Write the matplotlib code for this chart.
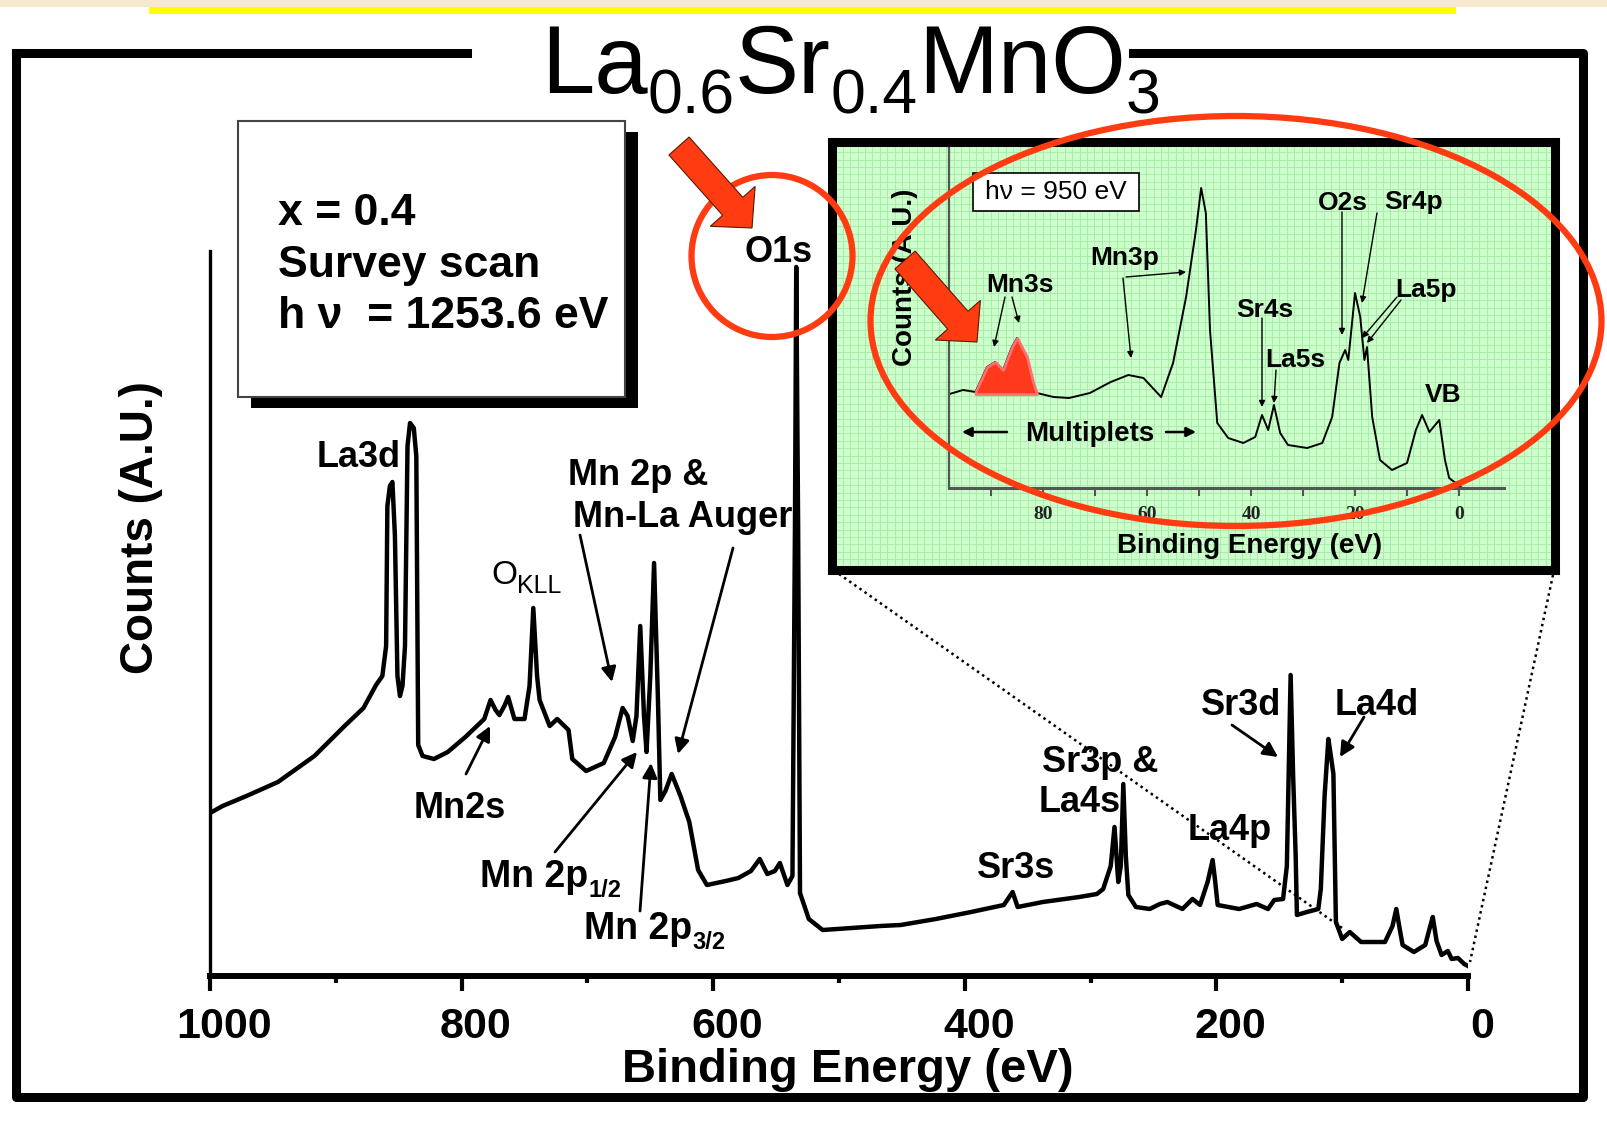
import matplotlib
matplotlib.use("Agg")
import matplotlib.pyplot as plt
import matplotlib.patches as mpatches
import matplotlib.transforms as mtransforms
import numpy as np

W, H = 1608, 1124
plt.rcParams["font.family"] = ["Liberation Sans", "DejaVu Sans"]

RED = "#ff3b12"

# survey scan, hv = 1253.6 eV (binding energy in eV, counts in arbitrary units)
survey_be = [1000, 990, 971, 946, 917, 893, 878, 868, 863, 860, 859, 857, 855, 853,
             851, 849, 847, 845, 843, 841, 838, 836, 834.5, 831, 822, 811, 797, 782,
             777, 773, 770, 766, 763, 758, 750, 746, 743, 740, 738, 730, 724, 715,
             712, 701, 687, 678, 672, 668, 664, 661, 658, 655, 653, 650, 647, 644,
             642, 638, 633, 626, 619, 612, 605, 590, 580, 570, 563, 557, 551, 547,
             541, 537, 535, 534, 532.5, 531, 524, 513, 490, 467, 451, 423, 395, 369,
             362, 358, 338, 309, 295, 290, 284, 281, 278, 276, 274, 272, 270, 264,
             253, 245, 239, 227, 219, 213, 207, 203, 201, 199, 182, 168, 159, 154,
             147, 144, 141, 139, 137, 136, 128, 119, 117, 114, 111, 109, 107, 105,
             100, 94, 85, 66, 60, 57, 54, 52, 43, 34, 30, 28, 25, 21, 16, 13, 8, 3, 0]
survey_counts = [163, 170, 180, 194, 220, 250, 268, 291, 300, 330, 470, 490, 494, 440,
                 300, 280, 290, 330, 530, 553, 548, 520, 231, 220, 217, 224, 239, 257,
                 276, 266, 261, 270, 279, 257, 257, 290, 368, 300, 276, 250, 257, 246,
                 217, 205, 213, 239, 268, 260, 235, 260, 350, 260, 224, 300, 413, 280,
                 176, 185, 202, 180, 154, 106, 91, 95, 98, 105, 117, 102, 105, 113,
                 91, 100, 450, 709, 450, 83, 57, 46, 48, 50, 51, 57, 64, 71,
                 84, 69, 74, 79, 82, 87, 110, 149, 94, 110, 192, 120, 81, 69,
                 67, 72, 74, 67, 77, 71, 94, 116, 95, 71, 67, 72, 67, 76,
                 77, 110, 301, 200, 121, 61, 64, 67, 87, 180, 237, 220, 202, 54,
                 37, 44, 34, 34, 50, 67, 45, 31, 24, 31, 50, 59, 35, 21, 25, 17, 18, 12, 10]

# shallow core levels and valence band, hv = 950 eV
valence_be = [98, 95.4, 93, 90.8, 89.2, 87.7, 86, 85, 83.1, 81.9, 81.2, 78, 75, 71, 67,
              63.6, 60.7, 57.3, 55, 52.5, 50.6, 49.6, 48.7, 47.9, 46.5, 44.4, 41.5,
              39.2, 37.9, 36.7, 35.6, 34.4, 32.9, 29.2, 26.3, 24.4, 23, 21.9, 21.3, 20,
              19, 18.2, 17.7, 16.7, 15.2, 12.9, 10, 8.3, 7.1, 5.7, 3.8, 2.7, 1.9, -0.6, -3]
valence_counts = [94, 98, 96, 121, 126, 118, 141, 150, 131, 105, 95, 91, 90, 95, 106,
                  113, 110, 91, 125, 191, 258, 300, 275, 158, 65, 50, 45,
                  51, 73, 58, 83, 55, 43, 40, 45, 71, 125, 138, 128, 195,
                  171, 128, 141, 71, 28, 18, 25, 58, 73, 56, 68, 28, 10, 0, 0]
mn3s_range = (93, 81.2)
mn3s_base = 94

survey_ticks = [1000, 800, 600, 400, 200, 0]
valence_ticks = [80, 60, 40, 20, 0]


def px_axes(fig, left, top, right, bottom, **kw):
    return fig.add_axes([left / W, 1 - bottom / H, (right - left) / W, (bottom - top) / H], **kw)


def chem_text(ax, x, y, runs, size, sub_size, drop, **kw):
    """Write a formula run by run; runs flagged True are set as subscripts."""
    renderer = ax.figure.canvas.get_renderer()
    for text, is_sub in runs:
        t = ax.text(x, y + (drop if is_sub else 0), text,
                    fontsize=sub_size if is_sub else size,
                    ha="left", va="baseline", **kw)
        x += t.get_window_extent(renderer).width


def pointer(ax, start, end, lw=2.0, scale=22, **kw):
    ax.annotate("", xy=end, xytext=start,
                arrowprops=dict(arrowstyle="-|>", lw=lw, color="black",
                                mutation_scale=scale, shrinkA=0, shrinkB=0), **kw)


fig = plt.figure(figsize=(W / 100, H / 100), dpi=100, facecolor="white")

ov = fig.add_axes([0, 0, 1, 1], zorder=10)
ov.set_xlim(0, W)
ov.set_ylim(H, 0)
ov.axis("off")
ov.patch.set_alpha(0)

# ---- survey spectrum ----
ax = px_axes(fig, 210, 251, 1468, 976, zorder=1)
ax.patch.set_alpha(0)
ax.plot(survey_be, survey_counts, color="black", lw=3.2, solid_joinstyle="round")
ax.set_xlim(1000, 0)
ax.set_ylim(0, 725)
for side in ("top", "right"):
    ax.spines[side].set_visible(False)
ax.spines["bottom"].set_linewidth(4.3)
ax.spines["left"].set_linewidth(2.4)
ax.set_yticks([])
ax.set_xticks(survey_ticks)
ax.set_xticks([900, 700, 500, 300, 100], minor=True)
ax.tick_params(axis="x", which="major", direction="out", length=11, width=3,
               labelsize=31, pad=11)
ax.tick_params(axis="x", which="minor", direction="out", length=5, width=3)
shift = mtransforms.ScaledTranslation(0.14, 0, fig.dpi_scale_trans)
for lab in ax.get_xticklabels():
    lab.set_fontweight("bold")
    lab.set_transform(lab.get_transform() + shift)
ax.set_xlabel("Binding Energy (eV)", fontsize=34, fontweight="bold", va="baseline")
ax.xaxis.set_label_coords(848, 1082, transform=ov.transData)
ax.set_ylabel("Counts (A.U.)", fontsize=33, fontweight="bold", va="center")
ax.yaxis.set_label_coords(141, 528, transform=ov.transData)

# ---- inset panel ----
panel = px_axes(fig, 832.5, 141.5, 1555.5, 569.5, zorder=2)
panel.set_facecolor("#ccffcc")
panel.set_xlim(0, 723)
panel.set_ylim(0, 428)
for v in np.arange(3, 723, 7.4):
    panel.axvline(v, color="#a9eca9", lw=0.7)
for h in np.arange(3, 428, 7.4):
    panel.axhline(h, color="#a9eca9", lw=0.7)
panel.set_xticks([])
panel.set_yticks([])
for sp in panel.spines.values():
    sp.set_linewidth(6.5)
    sp.set_color("black")

ins = px_axes(fig, 949, 148, 1504, 488, zorder=3)
ins.patch.set_alpha(0)
ins.plot(valence_be, valence_counts, color="black", lw=1.4)
be = np.array(valence_be)
cts = np.array(valence_counts)
sel = (be <= mn3s_range[0]) & (be >= mn3s_range[1])
ins.fill_between(be[sel], mn3s_base, cts[sel], color="#ff3a1c",
                 edgecolor="#ff7070", lw=2, zorder=3)
ins.set_xlim(98.1, -8.65)
ins.set_ylim(0, 340)
for side in ("top", "right"):
    ins.spines[side].set_visible(False)
for side in ("left", "bottom"):
    ins.spines[side].set_color("#555555")
    ins.spines[side].set_linewidth(1.6)
ins.spines["bottom"].set_linewidth(2.2)
ins.set_yticks([])
ins.set_xticks(valence_ticks)
ins.set_xticks([90, 70, 50, 30, 10], minor=True)
ins.tick_params(axis="x", which="both", direction="out", length=6, width=1.5,
                color="#555555", labelsize=14, labelcolor="#222222", pad=7)
for lab in ins.get_xticklabels():
    lab.set_fontfamily("Liberation Serif")
    lab.set_fontweight("bold")
ins.set_xlabel("Binding Energy (eV)", fontsize=20, fontweight="bold", va="baseline")
ins.xaxis.set_label_coords(1250, 553, transform=ov.transData)
ins.set_ylabel("Counts (A.U.)", fontsize=20, fontweight="bold", va="center")
ins.yaxis.set_label_coords(905, 277, transform=ov.transData)

# ---- page decoration ----
ov.add_patch(mpatches.Rectangle((0, 0), W, 7, color="#f6e9d0", lw=0))
ov.add_patch(mpatches.Rectangle((149, 7), 1307, 7, color="#ffff00", lw=0))
frame = dict(color="black", lw=6.5, solid_capstyle="projecting")
ov.plot([16, 16, 1583, 1583, 1133], [53, 1097, 1097, 53, 53], **frame)
ov.plot([16, 467], [53, 53], **frame)

chem_text(ov, 541, 93,
          [("La", False), ("0.6", True), ("Sr", False), ("0.4", True),
           ("MnO", False), ("3", True)],
          size=69, sub_size=45, drop=20)

# sample info box with drop shadow
ov.add_patch(mpatches.Rectangle((251, 132), 387, 276, color="black", lw=0, zorder=2))
ov.add_patch(mpatches.Rectangle((238, 121), 387, 276, facecolor="white",
                                edgecolor="#444444", lw=1.5, zorder=3))
for txt, base in [("x = 0.4", 225), ("Survey scan", 277), ("h \u03bd  = 1253.6 eV", 328)]:
    ov.text(278, base, txt, fontsize=32, fontweight="bold", va="baseline", zorder=4)

# ---- survey peak labels ----
lab = dict(fontsize=26, fontweight="bold", va="baseline")
ov.text(359, 467, "La3d", ha="center", **lab)
ov.text(779, 262, "O1s", ha="center", **lab)
ov.text(568, 485, "Mn 2p &", ha="left", **lab)
ov.text(573, 527, "Mn-La Auger", ha="left", **lab)
ov.text(460, 818, "Mn2s", ha="center", **lab)
ov.text(1016, 878, "Sr3s", ha="center", **lab)
ov.text(1042, 772, "Sr3p &", ha="left", **lab)
ov.text(1039, 812, "La4s", ha="left", **lab)
ov.text(1230, 840, "La4p", ha="center", **lab)
ov.text(1241, 715, "Sr3d", ha="center", **lab)
ov.text(1377, 715, "La4d", ha="center", **lab)
chem_text(ov, 491, 584, [("O", False), ("KLL", True)], size=24, sub_size=18, drop=9)
chem_text(ov, 480, 887, [("Mn 2p", False), ("1/2", True)], size=27, sub_size=17,
          drop=10, fontweight="bold")
chem_text(ov, 584, 939, [("Mn 2p", False), ("3/2", True)], size=27, sub_size=17,
          drop=10, fontweight="bold")

for start, end in [((580, 535), (612, 682)), ((733, 548), (678, 754)),
                   ((466, 774), (490, 726)), ((555, 852), (637, 752)),
                   ((640, 911), (651, 763)), ((1232, 725), (1278, 757)),
                   ((1364, 717), (1340, 757))]:
    pointer(ov, start, end)

# ---- inset labels ----
ilab = dict(fontsize=19, fontweight="bold", va="baseline", ha="center")
for txt, x, y in [("Mn3s", 1020, 292), ("Mn3p", 1125, 265), ("Sr4s", 1265, 317),
                  ("La5s", 1295, 367), ("O2s", 1343, 210), ("Sr4p", 1414, 209),
                  ("La5p", 1426, 297), ("VB", 1443, 402)]:
    ov.text(x, y, txt, **ilab)
ov.text(1090, 441, "Multiplets", fontsize=20, fontweight="bold", ha="center", va="baseline")
pointer(ov, (1007, 432), (962, 432), lw=1.8, scale=14)
pointer(ov, (1166, 432), (1196, 432), lw=1.8, scale=14)
for start, end in [((1005, 297), (994, 347)), ((1012, 297), (1019, 323)),
                   ((1123, 278), (1131, 358)), ((1126, 277), (1186, 272)),
                   ((1262, 318), (1262, 407)), ((1276, 370), (1274, 403)),
                   ((1342, 212), (1342, 335)), ((1377, 213), (1362, 303)),
                   ((1397, 297), (1362, 338)), ((1401, 300), (1367, 343))]:
    pointer(ov, start, end, lw=1.0, scale=9)

ov.add_patch(mpatches.Rectangle((973, 173), 166, 38, facecolor="white",
                                edgecolor="black", lw=1.2, zorder=3))
ov.text(1056, 192, "h\u03bd = 950 eV", fontsize=19, ha="center", va="center", zorder=4)

# ---- zoom guides, highlight circles and arrows ----
dots = dict(color="black", lw=1.8, linestyle=(0, (1, 1.5)))
ov.plot([839, 1345], [574, 930], **dots)
ov.plot([1553, 1470], [575, 962], **dots)

ov.add_patch(mpatches.Ellipse((772, 256), 161, 162, fill=False, edgecolor=RED, lw=4.5, zorder=6))
ov.add_patch(mpatches.Ellipse((1236, 321), 731, 410, fill=False, edgecolor=RED, lw=4.5, zorder=6))
for (x0, y0), (x1, y1) in [((679, 146), (752, 228)), ((905, 260), (977, 342))]:
    ov.add_patch(mpatches.FancyArrow(x0, y0, x1 - x0, y1 - y0, width=27, head_width=60,
                                     head_length=29, length_includes_head=True,
                                     facecolor=RED, edgecolor="#5a1a00", lw=0.8, zorder=7))

fig.savefig("out.png", dpi=100)
